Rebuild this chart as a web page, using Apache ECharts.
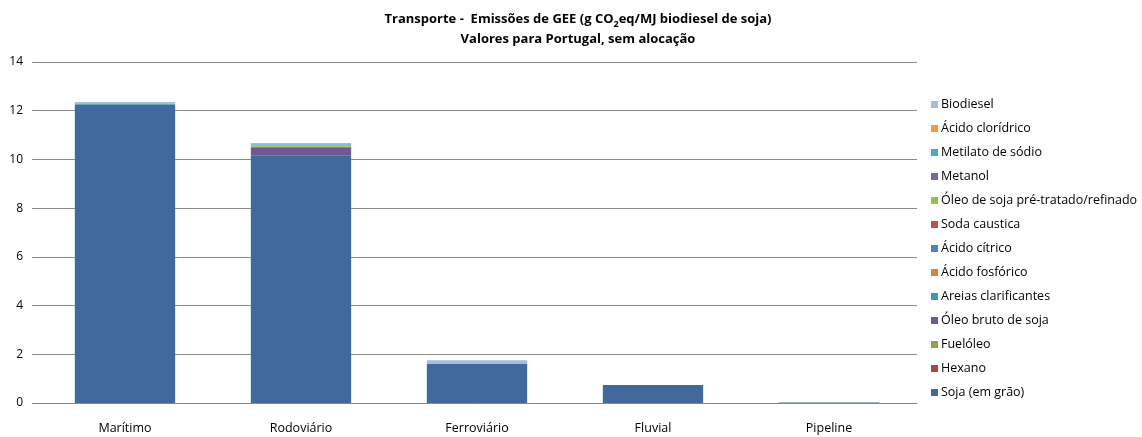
<!DOCTYPE html>
<html>
<head>
<meta charset="utf-8">
<script src="https://cdn.jsdelivr.net/npm/echarts@6/dist/echarts.min.js"></script>
<style>
html,body{margin:0;padding:0;background:#fff;}
#main{width:1142px;height:437px;}
</style>
</head>
<body>
<div id="main"></div>
<script>
// categorias (modo de transporte)
var categorias = ['Marítimo', 'Rodoviário', 'Ferroviário', 'Fluvial', 'Pipeline'];

// valores por componente, g CO2eq/MJ
var soja        = [12.25, 10.14, 1.60, 0.74, 0.02];
var hexano      = [0, 0.03, 0, 0, 0];
var fueloleo    = [0, 0, 0, 0, 0];
var oleoBruto   = [0, 0.33, 0, 0, 0];
var areias      = [0.03, 0.02, 0, 0, 0];
var acFosforico = [0, 0, 0, 0, 0];
var acCitrico   = [0, 0, 0, 0, 0];
var sodaCaust   = [0, 0, 0, 0, 0];
var oleoRefin   = [0.01, 0.06, 0, 0, 0];
var metanol     = [0, 0, 0, 0, 0];
var metilato    = [0.02, 0.04, 0, 0, 0];
var acCloridrico= [0, 0, 0, 0, 0];
var biodiesel   = [0.05, 0.05, 0.16, 0, 0];

var yTicks = [0, 2, 4, 6, 8, 10, 12, 14];

var nomes = ['Soja (em grão)', 'Hexano', 'Fuelóleo', 'Óleo bruto de soja', 'Areias clarificantes',
  'Ácido fosfórico', 'Ácido cítrico', 'Soda caustica', 'Óleo de soja pré-tratado/refinado',
  'Metanol', 'Metilato de sódio', 'Ácido clorídrico', 'Biodiesel'];
var dados = [soja, hexano, fueloleo, oleoBruto, areias, acFosforico, acCitrico, sodaCaust,
  oleoRefin, metanol, metilato, acCloridrico, biodiesel];
var cores = ['#41699b', '#aa4643', '#89a54e', '#71588f', '#4198af', '#db843d', '#4f81bd',
  '#c0504d', '#9bbb59', '#8064a2', '#4bacc6', '#f79646', '#a8bcd9'];

var series = [];
for (var i = 0; i < nomes.length; i++) {
  series.push({
    name: nomes[i],
    type: 'bar',
    stack: 'total',
    barWidth: '57%',
    itemStyle: { color: cores[i] },
    data: dados[i]
  });
}

var fonte = 'Open Sans';
var myChart = echarts.init(document.getElementById('main'));
var option = {
  animation: false,
  textStyle: { fontFamily: fonte },
  title: {
    text: '{b|Transporte -  Emissões de GEE (g CO}{s|2}{b|eq/MJ biodiesel de soja)}\n{b|Valores para Portugal, sem alocação}',
    left: 573,
    textAlign: 'center',
    top: 4,
    textStyle: {
      rich: {
        b: { fontFamily: fonte, fontSize: 13, fontWeight: 'bold', color: '#000', lineHeight: 20 },
        s: { fontFamily: fonte, fontSize: 9, fontWeight: 'bold', color: '#000', lineHeight: 14, verticalAlign: 'bottom' }
      }
    }
  },
  legend: {
    orient: 'vertical',
    left: 926,
    top: 93,
    itemWidth: 7,
    itemHeight: 7,
    itemGap: 11,
    icon: 'rect',
    textStyle: { fontFamily: fonte, fontSize: 12.5, color: '#000', padding: [0, 0, 0, -2] },
    data: nomes.slice().reverse()
  },
  grid: { left: 37, right: 225, top: 62, bottom: 34 },
  xAxis: {
    type: 'category',
    data: categorias,
    axisLine: { lineStyle: { color: '#868686' } },
    axisTick: { show: false },
    axisLabel: { fontFamily: fonte, fontSize: 12.5, color: '#000', margin: 19 }
  },
  yAxis: {
    type: 'value',
    min: yTicks[0],
    max: yTicks[yTicks.length - 1],
    interval: 2,
    axisLine: { show: false },
    axisTick: { show: true, length: 5, lineStyle: { color: '#868686' } },
    splitLine: { lineStyle: { color: '#8c8c8c' } },
    axisLabel: { fontFamily: fonte, fontSize: 12, color: '#000', margin: 14 }
  },
  series: series
};
myChart.setOption(option);
</script>
</body>
</html>
